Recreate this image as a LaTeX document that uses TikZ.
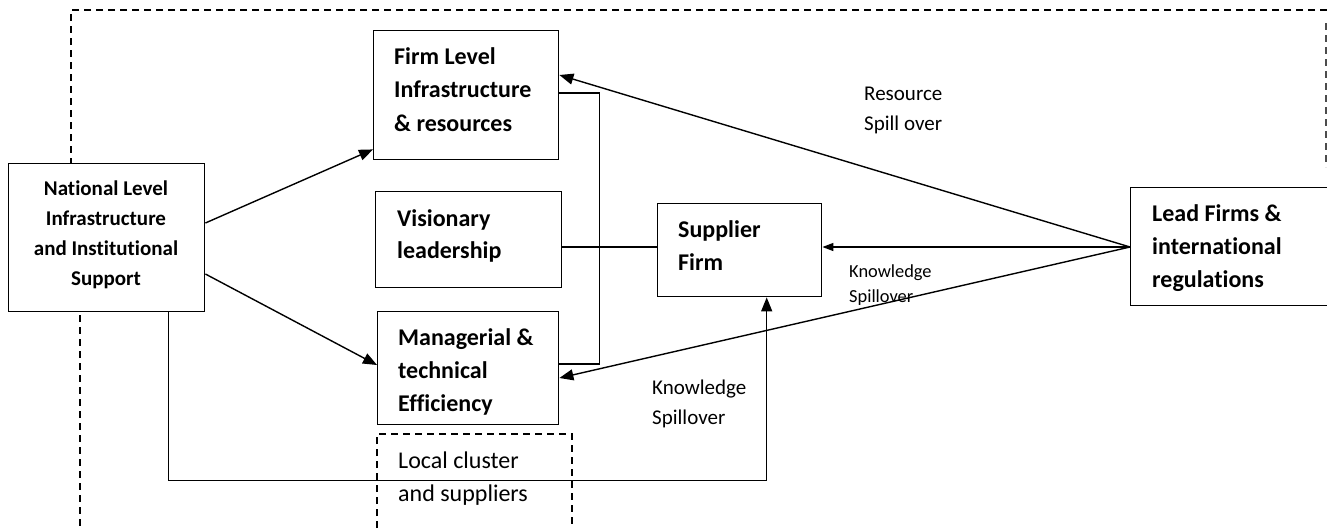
\documentclass[tikz,border=0pt]{standalone}
\usepackage{fontspec}
\setmainfont{Carlito}[Ligatures=NoCommon]
\usetikzlibrary{arrows.meta,calc}
\begin{document}
\begin{tikzpicture}[x=1pt,y=-1pt,
  box/.style={draw, line width=1.4pt, inner sep=0pt, anchor=north west},
  boxtext/.style={anchor=base west, inner sep=0pt, align=left, font=\bfseries\fontsize{24}{33}\selectfont},
  labtext/.style={anchor=base west, inner sep=0pt, align=left, font=\fontsize{21}{30}\selectfont},
  conn/.style={line width=1.4pt},
  arr/.style={line width=1.4pt, -{Triangle[length=14pt,width=11pt]}},
  sarr/.style={line width=1.4pt, -{Triangle[length=11pt,width=8pt]}},
  frame/.style={line width=1.2pt, dash pattern=on 7pt off 5pt}
]
\useasboundingbox (0,0) rectangle (1327,528);

% boxes
\node[box, minimum width=196pt, minimum height=148pt] (nat) at (8,163) {};
\node[box, minimum width=185pt, minimum height=129pt] (firm) at (373,30) {};
\node[box, minimum width=186pt, minimum height=96pt] (vis) at (375,191) {};
\node[box, minimum width=181pt, minimum height=113pt] (mgr) at (377,311) {};
\node[box, minimum width=164pt, minimum height=93pt] (sup) at (657,203) {};
\node[box, minimum width=200pt, minimum height=118pt] (lead) at (1130,187) {};

% box texts (anchored at the baseline of the last line)
\node[anchor=base, inner sep=0pt, align=center, font=\bfseries\fontsize{21}{30}\selectfont] (nattext) at (106,285) {National Level\\Infrastructure\\and Institutional\\Support};
\node[boxtext, font=\bfseries\fontsize{24}{33.5}\selectfont] (firmtext) at (394,131) {Firm Level\\Infrastructure\\\& resources};
\node[boxtext, font=\bfseries\fontsize{24}{32}\selectfont] (vistext) at (397,258) {Visionary\\leadership};
\node[boxtext] (mgrtext) at (398,411) {Managerial \&\\technical\\Efficiency};
\node[boxtext] (suptext) at (678,270) {Supplier\\Firm};
\node[boxtext] (leadtext) at (1152,287) {Lead Firms \&\\international\\regulations};

% labels
\node[labtext] (resl) at (864,130) {Resource\\Spill over};
\node[labtext, font=\fontsize{18.4}{25}\selectfont] (kn1) at (849,302) {Knowledge\\Spillover};
\node[labtext] (kn2) at (652,424) {Knowledge\\Spillover};
\node[labtext, font=\fontsize{24}{33}\selectfont] (loctext) at (398,501) {Local cluster\\and suppliers};

% dashed frames
\coordinate (ftl) at (71,10);
\coordinate (ftr) at (1327,10);
\draw[frame] (ftr) -- (ftl) -- (ftl |- nat.north);
\coordinate (fbl) at (80,315);
\draw[frame] (fbl) -- (80,528);
\draw[frame, draw=black!70] (1326,23) -- (1326,167);
\draw[frame] (377,528) -- (377,434) -- (572,434) -- (572,528);

% national to firm / managerial
\draw[arr] ([yshift=-60pt]nat.north east) -- ([yshift=11pt]firm.south west);
\draw[arr] ([yshift=-111pt]nat.north east) -- ([yshift=-54pt]mgr.north west);

% bracket
\draw[conn] ([yshift=-63pt]firm.north east) -- ++(40,0) |- ([yshift=-53pt]mgr.north east);

% visionary to supplier
\coordinate (v1) at ([yshift=-56pt]vis.north east);
\draw[conn] (v1) -- (v1 -| sup.west);

% lead firm connectors
\coordinate (lp) at ([yshift=-60pt]lead.north west);
\draw[arr] (lp) -- ([yshift=-45pt]firm.north east);
\draw[sarr] (lp) -- (lp -| sup.east);
\draw[arr] (lp) -- ([yshift=-67pt]mgr.north east);

% national bottom to supplier
\coordinate (b1) at ([xshift=27pt]sup.south);
\draw[arr] ([xshift=-37pt]nat.south east) -- ++(0,168) -| (b1);
\end{tikzpicture}
\end{document}
